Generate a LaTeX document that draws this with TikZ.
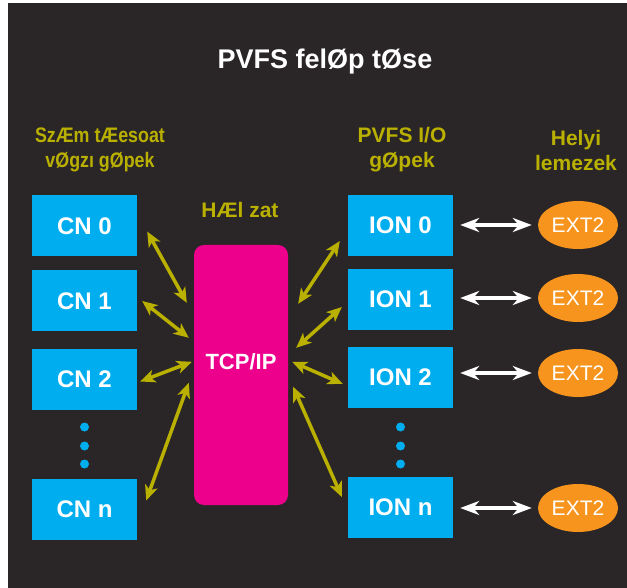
\documentclass[tikz,border=0pt]{standalone}
\usepackage{fontspec}
\setmainfont{Liberation Sans}
\usetikzlibrary{arrows.meta,shapes.geometric}
\definecolor{bgdark}{HTML}{2A2627}
\definecolor{nodeblue}{HTML}{00AEEF}
\definecolor{netpink}{HTML}{EC008C}
\definecolor{diskorange}{HTML}{F7941D}
\definecolor{headolive}{HTML}{BAB000}
\begin{document}
\begin{tikzpicture}[x=1pt,y=-1pt,
	box/.style={fill=nodeblue,text=white,minimum width=105pt,minimum height=61pt,inner sep=0pt,font=\fontsize{24}{28}\selectfont\bfseries},
	disk/.style={ellipse,fill=diskorange,text=white,minimum width=80pt,minimum height=48pt,inner sep=0pt,font=\fontsize{21}{24}\selectfont},
	head/.style={text=headolive,align=center,font=\fontsize{21}{25}\selectfont\bfseries},
	link/.style={draw=headolive,line width=3.5pt,{Stealth[length=15pt,width=13pt,inset=4pt]}-{Stealth[length=15pt,width=13pt,inset=4pt]}},
	local/.style={draw=white,line width=4pt,{Stealth[length=19pt,width=14pt,inset=6pt]}-{Stealth[length=19pt,width=14pt,inset=6pt]}}]
	\fill[white] (0,0) rectangle (627,588);
	\fill[bgdark] (8,3) rectangle (627,588);
	%
	% Feliratok
	%
	\node[text=white,font=\fontsize{27}{32}\selectfont\bfseries] (title) at (325,62) {PVFS felØp tØse};
	\node[head,xscale=0.85,transform shape] (cnhead) at (100,150) {SzÆm tÆesoat\\vØgzı gØpek};
	\node[head] (ionhead) at (402,150) {PVFS I/O\\gØpek};
	\node[head] (diskhead) at (576,150) {Helyi\\lemezek};
	\node[head] (nethead) at (240,210) {HÆl zat};
	%
	% Csomopontok
	%
	\node[fill=netpink,rounded corners=10pt,minimum width=94pt,minimum height=260pt] (tcp) at (241,375) {};
	\node[text=white,font=\fontsize{22}{26}\selectfont\bfseries] (tcptext) at (241,362) {TCP/IP};
	\foreach \k/\y in {0/226,1/301,2/379,n/509}{
		\node[box] (cn\k) at (84.5,\y) {CN \k};
	}
	\foreach \k/\y in {0/225.5,1/299.5,2/377.5,n/507.5}{
		\node[box] (ion\k) at (400.5,\y) {ION \k};
	}
	\foreach \k/\y in {0/225,1/298,2/373,n/508}{
		\node[disk] (ext\k) at (578,\y) {EXT2};
		\draw[local,shorten <=7pt,shorten >=6pt] (ion\k.east |- ext\k.west) -- (ext\k.west);
	}
	\foreach \y in {427,446,464}{
		\fill[nodeblue] (cn2 |- 0,\y) circle (4.5pt);
		\fill[nodeblue] (ion2 |- 0,\y) circle (4.5pt);
	}
	%
	% Kapcsolatok
	%
	\foreach \n/\ax/\ay/\bx/\by in {cn0/10/5.5/-7/58,cn1/5/0/-5/93,cn2/3/2.5/-2/117,cnn/9/-8.5/-5/138}{
		\draw[link] ([shift={(\ax,\ay)}]\n.east) -- ([shift={(\bx,\by)}]tcp.north west);
	}
	\foreach \n/\ax/\ay/\bx/\by in {ion0/10/59/-8/15.5,ion1/8/103/-6/7.5,ion2/4/117/-5/6.5,ionn/5/142/-6/-10.5}{
		\draw[link] ([shift={(\ax,\ay)}]tcp.north east) -- ([shift={(\bx,\by)}]\n.west);
	}
\end{tikzpicture}
\end{document}
